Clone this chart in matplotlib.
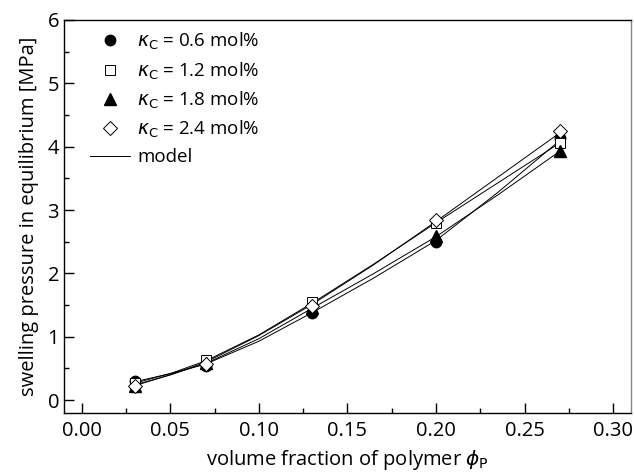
import matplotlib
matplotlib.use("Agg")
import matplotlib.pyplot as plt
from matplotlib.lines import Line2D
from matplotlib.ticker import MultipleLocator, FormatStrFormatter

plt.rcParams['font.family'] = ['Open Sans', 'DejaVu Sans']
plt.rcParams['mathtext.fontset'] = 'dejavusans'

# measured data
phi = [0.03, 0.07, 0.13, 0.20, 0.27]
p_06 = [0.30, 0.54, 1.38, 2.49, 4.14]
p_12 = [0.27, 0.63, 1.55, 2.80, 4.06]
p_18 = [0.22, 0.58, 1.45, 2.59, 3.93]
p_24 = [0.23, 0.57, 1.49, 2.84, 4.24]

# model curves
phi_model = [0.03, 0.05, 0.07, 0.10, 0.13, 0.165, 0.20, 0.235, 0.27]
m_06 = [0.29, 0.42, 0.57, 0.93, 1.38, 1.93, 2.52, 3.28, 4.10]
m_12 = [0.27, 0.42, 0.62, 1.03, 1.53, 2.15, 2.80, 3.43, 4.06]
m_18 = [0.24, 0.40, 0.58, 0.97, 1.45, 2.00, 2.58, 3.24, 3.93]
m_24 = [0.23, 0.40, 0.60, 1.02, 1.51, 2.14, 2.82, 3.52, 4.22]

labels = [r'$\kappa_\mathrm{C}$ = 0.6 mol%', r'$\kappa_\mathrm{C}$ = 1.2 mol%',
          r'$\kappa_\mathrm{C}$ = 1.8 mol%', r'$\kappa_\mathrm{C}$ = 2.4 mol%']

fig = plt.figure(figsize=(6.34, 4.74), dpi=100)
ax = fig.add_axes([0.101, 0.129, 0.894, 0.829])

for m in (m_06, m_12, m_18, m_24):
    ax.plot(phi_model, m, color='black', lw=0.7, zorder=2)

styles = [
    dict(marker='o', mfc='black', mec='black', ms=7.5),
    dict(marker='s', mfc='white', mec='black', ms=7, mew=0.7),
    dict(marker='^', mfc='black', mec='black', ms=8),
    dict(marker='D', mfc='white', mec='black', ms=7, mew=0.7),
]
for vals, st in zip((p_06, p_12, p_18, p_24), styles):
    ax.plot(phi, vals, ls='none', zorder=3, **st)

handles = [Line2D([], [], ls='none', **st) for st in styles]
handles.append(Line2D([], [], color='black', lw=0.7))
ax.legend(handles, labels + ['model'], loc='upper left', frameon=False,
          fontsize=13.5, handlelength=2.13, handletextpad=0.37,
          labelspacing=0.43, borderpad=0, borderaxespad=0,
          bbox_to_anchor=(26 / 567, 0.972))

ax.set_xlim(-0.01, 0.31)
ax.set_ylim(-0.2, 6)
ax.xaxis.set_major_locator(MultipleLocator(0.05))
ax.xaxis.set_minor_locator(MultipleLocator(0.025))
ax.xaxis.set_major_formatter(FormatStrFormatter('%.2f'))
ax.yaxis.set_major_locator(MultipleLocator(1))
ax.yaxis.set_minor_locator(MultipleLocator(0.5))
ax.tick_params(which='both', direction='in', top=False, right=False, labelsize=14.5)
ax.tick_params(axis='x', pad=6)
ax.tick_params(which='major', length=7, width=1)
ax.tick_params(which='minor', length=3.5, width=1)
for s in ax.spines.values():
    s.set_linewidth(1)
ax.spines['right'].set_color('#888888')

ax.set_xlabel(r'volume fraction of polymer $\phi_\mathrm{P}$', fontsize=14.5, labelpad=5)
ax.set_ylabel('swelling pressure in equilibrium [MPa]', fontsize=14.5, labelpad=6)

fig.savefig('out.png', dpi=100)
